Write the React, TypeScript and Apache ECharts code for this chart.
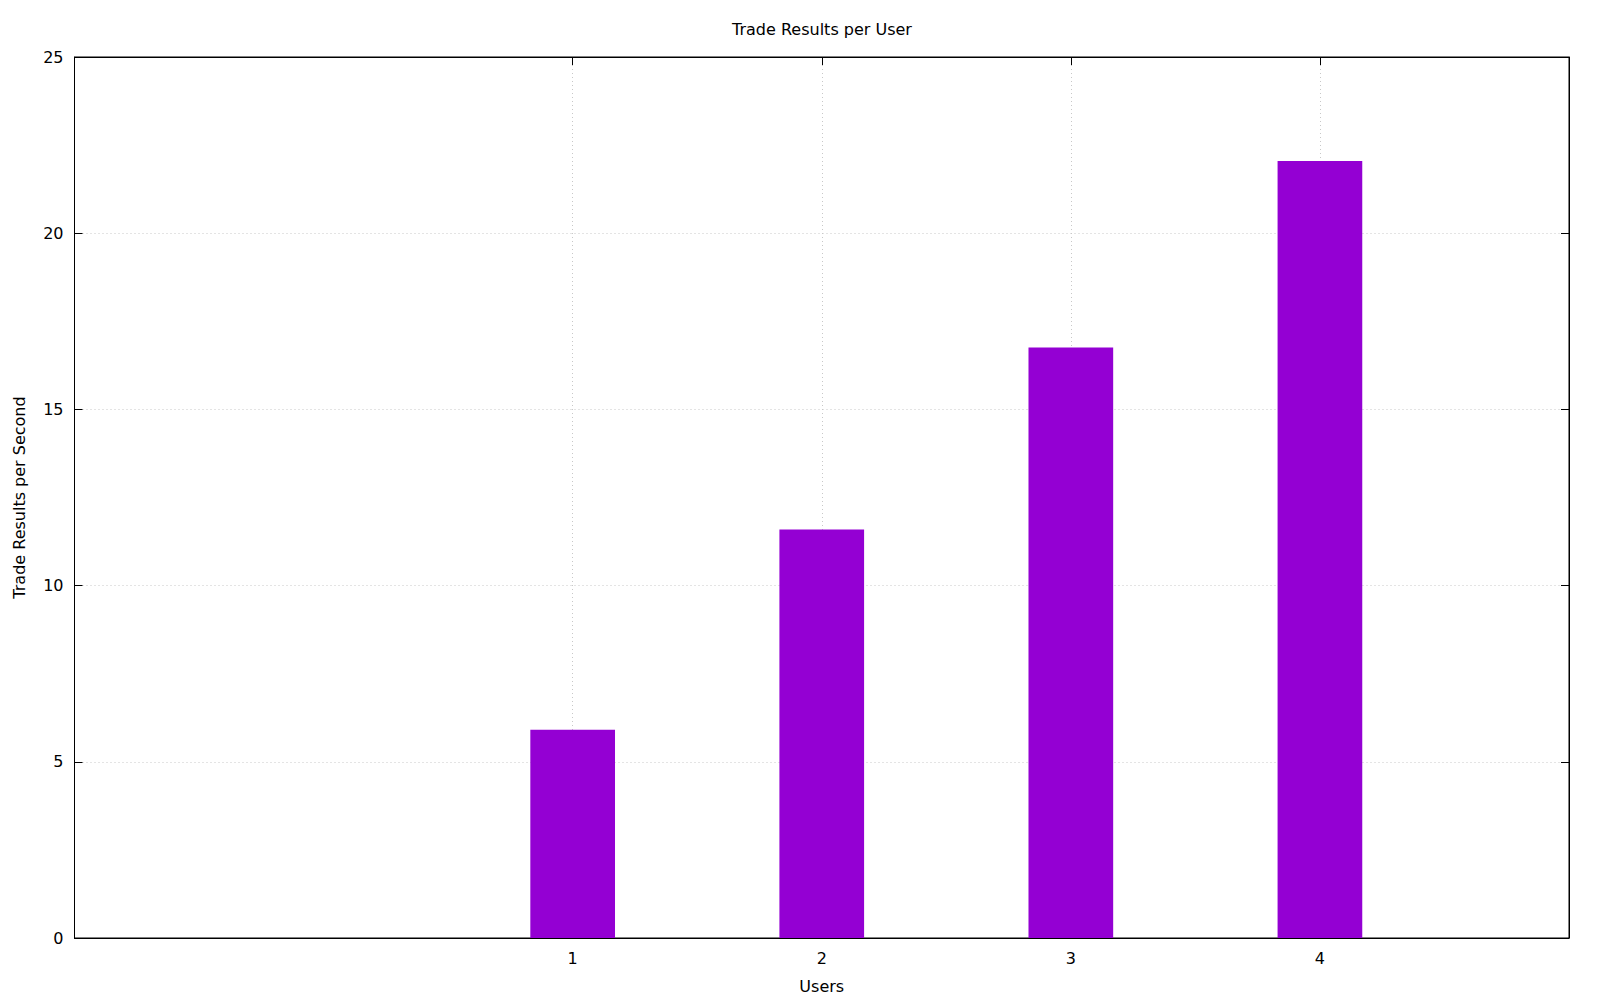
import React, { useEffect, useRef } from "react";
import * as echarts from "echarts";

const users = [1, 2, 3, 4];
const tradeResults = [5.91, 11.59, 16.76, 22.05];
const xTicks = [1, 2, 3, 4];
const xRange = [-1, 5];
const yRange = [0, 25];
const yInterval = 5;
const boxWidth = 0.34;

const FONT = "DejaVu Sans";
const BAR_COLOR = "#9400d3";
const GRID_COLOR = "#c8c8c8";

export default function App() {
  const ref = useRef<HTMLDivElement>(null);
  useEffect(() => {
    document.body.style.margin = "0";
    const chart = echarts.init(ref.current!, null, { renderer: "svg" });
    const tickStyle = { show: true, inside: true, length: 8, lineStyle: { color: "#000", width: 1 } };
    const axisLine = { show: true, onZero: false, lineStyle: { color: "#000", width: 1 } };
    const gridLine = { show: true, lineStyle: { color: GRID_COLOR, width: 1, type: [1, 3] as any } };
    chart.setOption({
      animation: false,
      backgroundColor: "#fff",
      textStyle: { fontFamily: FONT },
      title: {
        text: "Trade Results per User",
        left: 817,
        textAlign: "center",
        top: 16,
        textStyle: { fontFamily: FONT, fontSize: 16, fontWeight: "normal", color: "#000" },
      },
      grid: {
        left: 74.5,
        right: 31,
        top: 57,
        bottom: 62,
        show: true,
        borderColor: "#000",
        borderWidth: 1,
        backgroundColor: "transparent",
      },
      xAxis: [
        {
          type: "value",
          min: xRange[0],
          max: xRange[1],
          interval: 1,
          name: "Users",
          nameLocation: "middle",
          nameGap: 40,
          nameTextStyle: { fontFamily: FONT, fontSize: 16, color: "#000" },
          axisLine,
          axisTick: { ...tickStyle, customValues: xTicks },
          axisLabel: { fontFamily: FONT, fontSize: 16, color: "#000", margin: 12, customValues: xTicks },
          splitLine: gridLine,
        },
        {
          type: "value",
          position: "top",
          min: xRange[0],
          max: xRange[1],
          interval: 1,
          axisLine,
          axisTick: { ...tickStyle, customValues: xTicks },
          axisLabel: { show: false, customValues: xTicks },
          splitLine: { show: false },
        },
      ],
      yAxis: [
        {
          type: "value",
          min: yRange[0],
          max: yRange[1],
          interval: yInterval,
          name: "Trade Results per Second",
          nameLocation: "middle",
          nameGap: 47,
          nameTextStyle: { fontFamily: FONT, fontSize: 16, color: "#000" },
          axisLine,
          axisTick: tickStyle,
          axisLabel: { fontFamily: FONT, fontSize: 16, color: "#000", margin: 11 },
          splitLine: gridLine,
        },
        {
          type: "value",
          position: "right",
          min: yRange[0],
          max: yRange[1],
          interval: yInterval,
          axisLine,
          axisTick: tickStyle,
          axisLabel: { show: false },
          splitLine: { show: false },
        },
      ],
      series: [
        {
          type: "custom",
          xAxisIndex: 0,
          yAxisIndex: 0,
          data: users.map((u, i) => [u, tradeResults[i]]),
          renderItem: (params: any, api: any) => {
            const x = api.value(0);
            const y = api.value(1);
            const base = api.coord([x, 0]);
            const top = api.coord([x, y]);
            const w = api.size([boxWidth, 0])[0];
            return {
              type: "rect",
              shape: { x: base[0] - w / 2, y: top[1], width: w, height: base[1] - top[1] },
              style: { fill: BAR_COLOR },
            };
          },
        },
      ],
    });
    return () => chart.dispose();
  }, []);
  return <div ref={ref} style={{ width: 1600, height: 1000 }} />;
}
